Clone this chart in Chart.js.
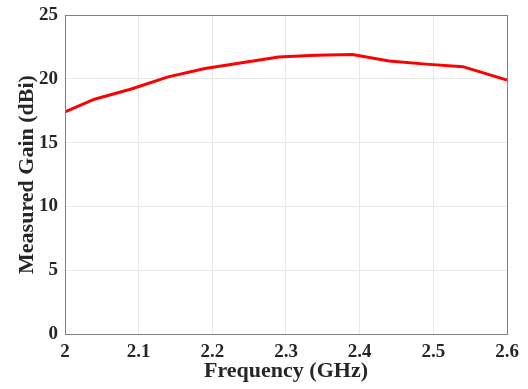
<!DOCTYPE html>
<html>
<head>
<meta charset="utf-8">
<script src="https://cdn.jsdelivr.net/npm/chart.js@4"></script>
<style>
html,body{margin:0;padding:0;background:#fff;}
#wrap{width:528px;height:389px;position:relative;}
</style>
</head>
<body>
<div id="wrap"><canvas id="c" width="528" height="389"></canvas></div>
<script>
const frequencies = [2.0, 2.04, 2.09, 2.14, 2.19, 2.24, 2.29, 2.34, 2.39, 2.44, 2.49, 2.54, 2.6];
const gainValues = [17.4, 18.4, 19.2, 20.15, 20.8, 21.25, 21.7, 21.85, 21.9, 21.4, 21.15, 20.95, 19.9];
const xTicks = [2, 2.1, 2.2, 2.3, 2.4, 2.5, 2.6];
const yTicks = [0, 5, 10, 15, 20, 25];

const points = frequencies.map((f, i) => ({x: f, y: gainValues[i]}));
const textColor = '#262626';
const tickFont = {family: '"Liberation Serif", "Times New Roman", serif', size: 19, weight: 'bold'};
const titleFont = {family: '"Liberation Serif", "Times New Roman", serif', size: 22, weight: 'bold'};

const borderPlugin = {
  id: 'frame',
  afterDraw(chart) {
    const {ctx, chartArea: a} = chart;
    ctx.save();
    ctx.strokeStyle = '#808080';
    ctx.lineWidth = 1;
    ctx.strokeRect(Math.round(a.left) + 0.5, Math.round(a.top) + 0.5, Math.round(a.right - a.left), Math.round(a.bottom - a.top));
    ctx.restore();
  }
};

new Chart(document.getElementById('c'), {
  type: 'line',
  data: {
    datasets: [{
      data: points,
      borderColor: '#ff0000',
      borderWidth: 3,
      pointRadius: 0,
      fill: false,
      tension: 0
    }]
  },
  options: {
    responsive: false,
    animation: false,
    layout: {padding: {left: 0, right: 21, top: 15, bottom: 0}},
    plugins: {legend: {display: false}, tooltip: {enabled: false}},
    scales: {
      x: {
        type: 'linear',
        min: 2, max: 2.6,
        afterBuildTicks(scale) { scale.ticks = xTicks.map(v => ({value: v})); },
        afterFit(scale) { scale.height = 55; scale.paddingLeft = 0; scale.paddingRight = 0; },
        grid: {color: '#e8e8e8', drawTicks: false},
        border: {display: false},
        ticks: {color: textColor, font: tickFont, padding: 7, maxRotation: 0,
          callback: v => String(Math.round(v * 10) / 10)},
        title: {display: true, text: 'Frequency (GHz)', color: textColor, font: titleFont, padding: {top: 0, bottom: 4}}
      },
      y: {
        min: 0, max: 25,
        afterBuildTicks(scale) { scale.ticks = yTicks.map(v => ({value: v})); },
        afterFit(scale) { scale.width = 65; scale.paddingTop = 0; scale.paddingBottom = 0; },
        grid: {color: '#e8e8e8', drawTicks: false},
        border: {display: false},
        ticks: {color: textColor, font: tickFont, padding: 7},
        title: {display: true, text: 'Measured Gain (dBi)', color: textColor, font: titleFont, padding: {top: 14, bottom: 0}}
      }
    }
  },
  plugins: [borderPlugin]
});
</script>
</body>
</html>
